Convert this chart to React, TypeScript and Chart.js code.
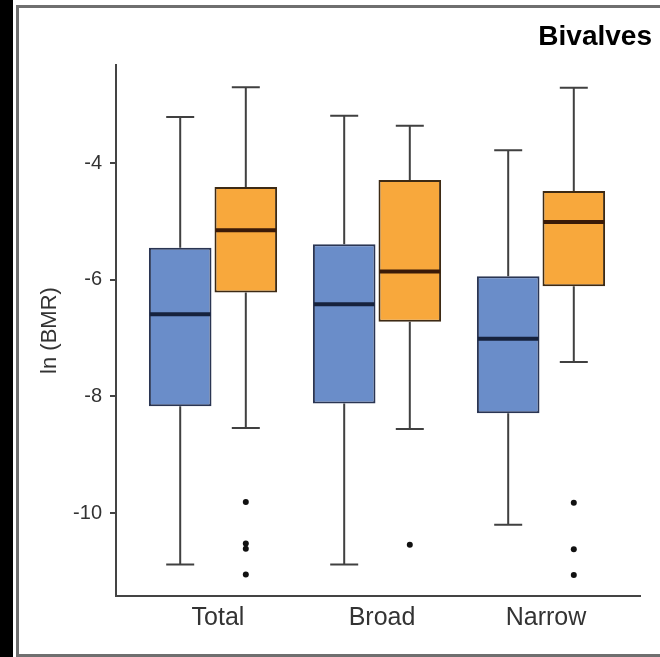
import React, { useEffect, useRef } from 'react';
import { Chart, registerables } from 'chart.js';

Chart.register(...registerables);

const categories = ['Total', 'Broad', 'Narrow'];
const yTickValues = [-10, -8, -6, -4];

// Blue series (box-plot statistics per category)
const blueMin = [-10.88, -10.88, -10.2];
const blueQ1 = [-8.17, -8.12, -8.29];
const blueMedian = [-6.59, -6.42, -7.01];
const blueQ3 = [-5.45, -5.39, -5.94];
const blueMax = [-3.21, -3.19, -3.78];
const blueOutliers: number[][] = [[], [], []];

// Orange series
const orangeMin = [-8.54, -8.56, -7.41];
const orangeQ1 = [-6.22, -6.72, -6.11];
const orangeMedian = [-5.15, -5.86, -5.01];
const orangeQ3 = [-4.41, -4.29, -4.48];
const orangeMax = [-2.7, -3.36, -2.71];
const orangeOutliers: number[][] = [
  [-9.81, -10.52, -10.61, -11.05],
  [-10.54],
  [-9.82, -10.62, -11.06],
];

const FONT = "'Liberation Sans', Arial, Helvetica, sans-serif";

const framePlugin = {
  id: 'frame',
  beforeDraw(chart: any) {
    const ctx = chart.ctx;
    ctx.save();
    ctx.fillStyle = '#ffffff';
    ctx.fillRect(0, 0, chart.width, chart.height);
    ctx.fillStyle = '#000000';
    ctx.fillRect(0, 0, 13, chart.height);
    ctx.strokeStyle = '#6f6f6f';
    ctx.lineWidth = 3;
    ctx.beginPath();
    ctx.moveTo(chart.width + 5, 6.5);
    ctx.lineTo(17.5, 6.5);
    ctx.lineTo(17.5, 655.5);
    ctx.lineTo(chart.width + 5, 655.5);
    ctx.stroke();
    ctx.restore();
  },
};

const boxPlugin = {
  id: 'boxExtras',
  beforeDatasetsDraw(chart: any) {
    const ctx = chart.ctx;
    const y = chart.scales.y;
    ctx.save();
    ctx.strokeStyle = '#404040';
    ctx.lineWidth = 2;
    chart.data.datasets.forEach((ds: any, d: number) => {
      const meta = chart.getDatasetMeta(d);
      meta.data.forEach((el: any, i: number) => {
        const x = el.x;
        const q1 = y.getPixelForValue(ds.stats.q1[i]);
        const q3 = y.getPixelForValue(ds.stats.q3[i]);
        const mn = y.getPixelForValue(ds.stats.min[i]);
        const mx = y.getPixelForValue(ds.stats.max[i]);
        ctx.beginPath();
        ctx.moveTo(x, q3);
        ctx.lineTo(x, mx);
        ctx.moveTo(x - 14, mx);
        ctx.lineTo(x + 14, mx);
        ctx.moveTo(x, q1);
        ctx.lineTo(x, mn);
        ctx.moveTo(x - 14, mn);
        ctx.lineTo(x + 14, mn);
        ctx.stroke();
      });
    });
    ctx.restore();
  },
  afterDatasetsDraw(chart: any) {
    const ctx = chart.ctx;
    const y = chart.scales.y;
    ctx.save();
    chart.data.datasets.forEach((ds: any, d: number) => {
      const meta = chart.getDatasetMeta(d);
      meta.data.forEach((el: any, i: number) => {
        const x = el.x;
        const w = el.width;
        const m = y.getPixelForValue(ds.stats.median[i]);
        ctx.strokeStyle = ds.stats.medianColor;
        ctx.lineWidth = 4;
        ctx.beginPath();
        ctx.moveTo(x - w / 2 + 1, m);
        ctx.lineTo(x + w / 2 - 1, m);
        ctx.stroke();
        ctx.fillStyle = '#111111';
        ds.stats.outliers[i].forEach((v: number) => {
          ctx.beginPath();
          ctx.arc(x, y.getPixelForValue(v), 3, 0, Math.PI * 2);
          ctx.fill();
        });
      });
    });
    ctx.restore();
  },
};

export default function App() {
  const ref = useRef<HTMLCanvasElement | null>(null);

  useEffect(() => {
    if (!ref.current) return;
    const chart = new Chart(ref.current, {
      type: 'bar',
      data: {
        datasets: [
          {
            label: 'Blue',
            data: categories.map((_, i) => ({ x: i + 1, y: [blueQ1[i], blueQ3[i]] })),
            backgroundColor: '#6a8dc9',
            borderColor: '#2a3553',
            borderWidth: 2,
            borderSkipped: false,
            categoryPercentage: 0.8,
            barPercentage: 0.954,
            stats: {
              min: blueMin, q1: blueQ1, median: blueMedian, q3: blueQ3, max: blueMax,
              outliers: blueOutliers, medianColor: '#16223d',
            },
          } as any,
          {
            label: 'Orange',
            data: categories.map((_, i) => ({ x: i + 1, y: [orangeQ1[i], orangeQ3[i]] })),
            backgroundColor: '#f8a83c',
            borderColor: '#3d2a14',
            borderWidth: 2,
            borderSkipped: false,
            categoryPercentage: 0.8,
            barPercentage: 0.954,
            stats: {
              min: orangeMin, q1: orangeQ1, median: orangeMedian, q3: orangeQ3, max: orangeMax,
              outliers: orangeOutliers, medianColor: '#3a1a08',
            },
          } as any,
        ],
      },
      options: {
        responsive: false,
        animation: false,
        layout: { padding: { left: 0, right: 8, top: 0, bottom: 0 } },
        plugins: {
          legend: { display: false },
          tooltip: { enabled: false },
          title: {
            display: true,
            text: 'Bivalves',
            align: 'end',
            color: '#000000',
            font: { family: FONT, size: 28, weight: 'bold' },
            padding: { top: 20, bottom: 11.4 },
          },
        },
        scales: {
          x: {
            type: 'linear',
            min: 0.4085,
            max: 3.6037,
            offset: false,
            afterBuildTicks: (s: any) => {
              s.ticks = categories.map((_, i) => ({ value: i + 1 }));
            },
            afterFit: (s: any) => {
              s.height = 61;
            },
            grid: { display: false, drawTicks: false, offset: false },
            border: { display: true, color: '#444444', width: 2 },
            ticks: {
              callback: (v: any) => categories[Number(v) - 1],
              padding: 7,
              labelOffset: 5,
              color: '#333333',
              autoSkip: false,
              maxRotation: 0,
              font: { family: FONT, size: 25 },
            },
          },
          y: {
            type: 'linear',
            min: -11.42,
            max: -2.32,
            afterBuildTicks: (s: any) => {
              s.ticks = yTickValues.map((v) => ({ value: v }));
            },
            afterFit: (s: any) => {
              s.width = 116;
            },
            grid: {
              display: true,
              drawOnChartArea: false,
              drawTicks: true,
              tickLength: 6,
              color: '#444444',
              lineWidth: 2,
            },
            border: { display: true, color: '#444444', width: 2 },
            ticks: {
              padding: 8,
              color: '#333333',
              callback: (v: any) => String(v),
              font: { family: FONT, size: 20 },
            },
            title: {
              display: true,
              text: 'ln (BMR)',
              color: '#333333',
              font: { family: FONT, size: 22 },
              padding: { top: 37, bottom: 0 },
            },
          },
          yRight: {
            type: 'linear',
            position: 'right',
            display: true,
            afterFit: (s: any) => {
              s.width = 12;
            },
            grid: { display: false, drawTicks: false },
            border: { display: false },
            ticks: { display: false },
          },
        },
      } as any,
      plugins: [framePlugin, boxPlugin],
    });
    return () => chart.destroy();
  }, []);

  return (
    <div style={{ position: 'fixed', left: 0, top: 0, width: 660, height: 657 }}>
      <canvas ref={ref} width={660} height={657} />
    </div>
  );
}
